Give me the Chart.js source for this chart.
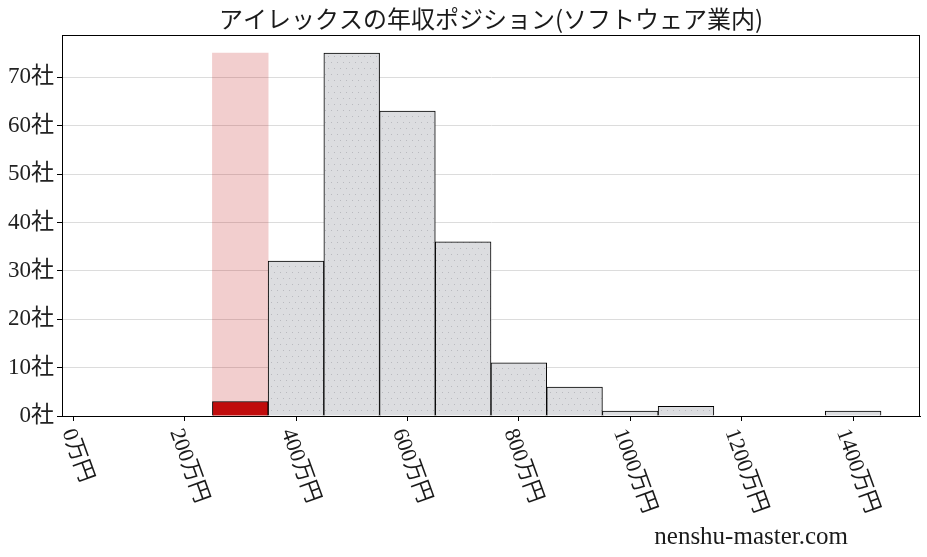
<!DOCTYPE html>
<html>
<head>
<meta charset="utf-8">
<script src="https://cdn.jsdelivr.net/npm/chart.js@4"></script>
<style>
  body { margin: 0; background: #fff; }
  #wrap { width: 927px; height: 557px; }
</style>
</head>
<body>
<div id="wrap"><canvas id="myChart"></canvas></div>
<script>
// salary bins (万円, bin centres) and company counts
const binCenters = [400, 500, 600, 700, 800, 900, 1000, 1100, 1200, 1300, 1400];
const companyCounts = [32, 75, 63, 36, 11, 6, 1, 2, 0, 0, 1];
const ownBin = 300;
const ownCount = 3;
const highlightHeight = 75;
const xTickValues = [0, 200, 400, 600, 800, 1000, 1200, 1400];

const titleText = 'アイレックスの年収ポジション(ソフトウェア業内)';
const watermark = 'nenshu-master.com';
const fontFam = "'Liberation Serif', 'Noto Sans CJK JP', serif";

function makeDots () {
    var c = document.createElement('canvas');
    c.width = 12; c.height = 12;
    var g = c.getContext('2d');
    g.fillStyle = '#dcdde0';
    g.fillRect(0, 0, 12, 12);
    g.fillStyle = '#b9babf';
    g.fillRect(1, 2, 1, 1);
    g.fillRect(7, 2, 1, 1);
    g.fillRect(4, 8, 1, 1);
    g.fillRect(10, 8, 1, 1);
    return g.createPattern(c, 'repeat');
}

const greyData = binCenters.map((b, i) => ({x: b, y: companyCounts[i]}));

const extras = {
    id: 'extras',
    afterDraw: function (chart) {
        var ctx = chart.ctx;
        var a = chart.chartArea;
        ctx.save();
        // frame
        ctx.strokeStyle = '#000';
        ctx.lineWidth = 1;
        ctx.strokeRect(a.left + 0.5, a.top + 0.5, a.right - a.left - 1, a.bottom - a.top);
        // title
        ctx.fillStyle = '#1a1a1a';
        ctx.font = "24px 'Noto Sans CJK JP', sans-serif";
        ctx.textAlign = 'center';
        ctx.textBaseline = 'middle';
        ctx.fillText(titleText, (a.left + a.right) / 2, 19);
        // rotated x labels
        var xs = chart.scales.x;
        var ang = 70 * Math.PI / 180;
        ctx.font = '22px ' + fontFam;
        ctx.textAlign = 'left';
        ctx.textBaseline = 'middle';
        xTickValues.forEach(function (v) {
            var txt = v + '万円';
            var L = ctx.measureText(txt).width;
            var h = 22;
            var pts = [[0, -h / 2], [0, h / 2], [L, -h / 2], [L, h / 2]].map(function (p) {
                return [p[0] * Math.cos(ang) - p[1] * Math.sin(ang), p[0] * Math.sin(ang) + p[1] * Math.cos(ang)];
            });
            var minx = Math.min.apply(null, pts.map(p => p[0]));
            var maxx = Math.max.apply(null, pts.map(p => p[0]));
            var miny = Math.min.apply(null, pts.map(p => p[1]));
            var px = xs.getPixelForValue(v) + 4 - (minx + maxx) / 2;
            var py = a.bottom + 10 - miny;
            ctx.save();
            ctx.translate(px, py);
            ctx.rotate(ang);
            ctx.fillText(txt, 0, 0);
            ctx.restore();
        });
        // watermark
        ctx.font = '25px ' + fontFam;
        ctx.textAlign = 'right';
        ctx.fillText(watermark, 848, 537);
        ctx.restore();
    }
};

const ctx = document.getElementById('myChart');
const myChart = new Chart(ctx, {
    type: 'bar',
    data: {
        datasets: [
            {
                data: [{x: ownBin, y: ownCount}],
                backgroundColor: '#c00c0c',
                borderColor: '#000',
                borderWidth: 1
            },
            {
                data: greyData,
                backgroundColor: makeDots(),
                borderColor: '#000',
                borderWidth: 1
            },
            {
                data: [{x: ownBin, y: highlightHeight}],
                backgroundColor: 'rgba(190, 10, 10, 0.2)',
                borderWidth: 0
            }
        ]
    },
    options: {
        responsive: true,
        maintainAspectRatio: false,
        animation: false,
        datasets: {
            bar: {
                grouped: false,
                barPercentage: 1,
                categoryPercentage: 1
            }
        },
        layout: {
            padding: {top: 35, right: 7, left: 0, bottom: 0}
        },
        plugins: {
            legend: {display: false},
            title: {display: false},
            tooltip: {enabled: false}
        },
        scales: {
            x: {
                type: 'linear',
                min: -20,
                max: 1520,
                offset: false,
                ticks: {
                    display: false,
                    stepSize: 200,
                    includeBounds: false
                },
                grid: {
                    offset: false,
                    drawOnChartArea: false,
                    drawTicks: true,
                    tickLength: 5,
                    color: '#000'
                },
                border: {display: true, color: '#000'},
                afterFit: function (scale) { scale.height = 141; }
            },
            y: {
                min: 0,
                max: 78.75,
                ticks: {
                    stepSize: 10,
                    includeBounds: false,
                    padding: 3,
                    color: '#222',
                    font: {family: fontFam, size: 23},
                    callback: function (v) { return v + '社'; }
                },
                grid: {
                    color: '#dcdcdc',
                    tickColor: '#000',
                    tickLength: 5
                },
                border: {display: true, color: '#000'},
                afterFit: function (scale) { scale.width = 62; }
            }
        }
    },
    plugins: [extras]
});
</script>
</body>
</html>
